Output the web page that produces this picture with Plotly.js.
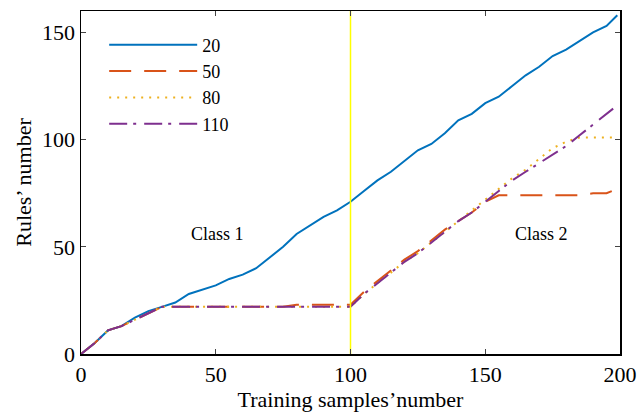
<!DOCTYPE html>
<html><head><meta charset="utf-8">
<script src="https://cdn.plot.ly/plotly-3.0.1.min.js"></script>
<style>html,body{margin:0;padding:0;background:#fff}#c{width:640px;height:413px}</style>
</head><body><div id="c"></div>
<script>
const samples = [0,5,10,15,20,25,30,35,40,45,50,55,60,65,70,75,80,85,90,95,100,105,110,115,120,125,130,135,140,145,150,155,160,165,170,175,180,185,190,195,199];
const rules20  = [0,5,11,13,17,20,22,24,28,30,32,35,37,40,45,50,56,60,64,67,71,76,81,85,90,95,98,103,109,112,117,120,125,130,134,139,142,146,150,153,158];
const rules50  = [0,5,11,13,16,19,22,22,22,22,22,22,22,22,22,22,23,23,23,23,23,29,34,39,44,48,53,58,62,66,71,74,74,74,74,74,74,74,75,75,77];
const rules80  = [0,5,11,13,16,19,22,22,22,22,22,22,22,22,22,22,22,22,22,22,22,28,33,38,43,47,52,57,62,67,72,77,82,86,91,96,99,101,101,101,101];
const rules110 = [0,5,11,13,16,19,22,22,22,22,22,22,22,22,22,22,22,22,22,22,22,28,33,38,43,47,52,57,62,66,71,76,81,85,89,93,97,102,107,112,116];
const seriesNames = ['20','50','80','110'];
const splitX = [100,100];
const splitY = [0,160];
const classLabels = ['Class 1','Class 2'];
const classX = [50.5,171];
const classY = [56,56];

const font = 'Liberation Serif, Times New Roman, serif';
const colors = ['#0072BD','#D95319','#EDB120','#7E2F8E'];
const dashes = ['solid','22px,13px','2px,6px','18px,6px,3px,8px'];
const data = [rules20,rules50,rules80,rules110].map((v,i)=>({
  x: samples, y: v, type:'scatter', mode:'lines', name: seriesNames[i],
  line:{color:colors[i], width:2, dash:dashes[i]}
}));
data.push({x: splitX, y: splitY, type:'scatter', mode:'lines', showlegend:false,
  line:{color:'#FFFF00', width:1.5}, hoverinfo:'skip'});

const layout = {
  width:640, height:413,
  margin:{l:81, r:20, t:11, b:59},
  paper_bgcolor:'#fff', plot_bgcolor:'#fff',
  font:{family:font, size:22, color:'#000'},
  showlegend:true,
  legend:{x:0.043, y:0.955, xanchor:'left', yanchor:'top', bgcolor:'rgba(0,0,0,0)',
    font:{family:font, size:18, color:'#000'}, itemwidth:88, tracegroupgap:0},
  xaxis:{range:[0,200], tickvals:[0,50,100,150,200], ticks:'inside', ticklen:5, tickwidth:1.2,
    showline:true, linecolor:'#000', linewidth:1.5, mirror:'ticks', showgrid:false, zeroline:false,
    tickfont:{family:font, size:22},
    title:{text:'Training samples’number', font:{family:font, size:22}, standoff:0}},
  yaxis:{range:[0,160], tickvals:[0,50,100,150], ticks:'inside', ticklen:5, tickwidth:1.2,
    showline:true, linecolor:'#000', linewidth:1.5, mirror:'ticks', showgrid:false, zeroline:false,
    tickfont:{family:font, size:22},
    title:{text:'Rules’ number', font:{family:font, size:22}, standoff:4}},
  annotations: classLabels.map((t,i)=>({x:classX[i], y:classY[i], xref:'x', yref:'y', text:t,
    showarrow:false, font:{family:font, size:18, color:'#000'}}))
};
Plotly.newPlot('c', data, layout, {displayModeBar:false, staticPlot:true});
</script></body></html>
